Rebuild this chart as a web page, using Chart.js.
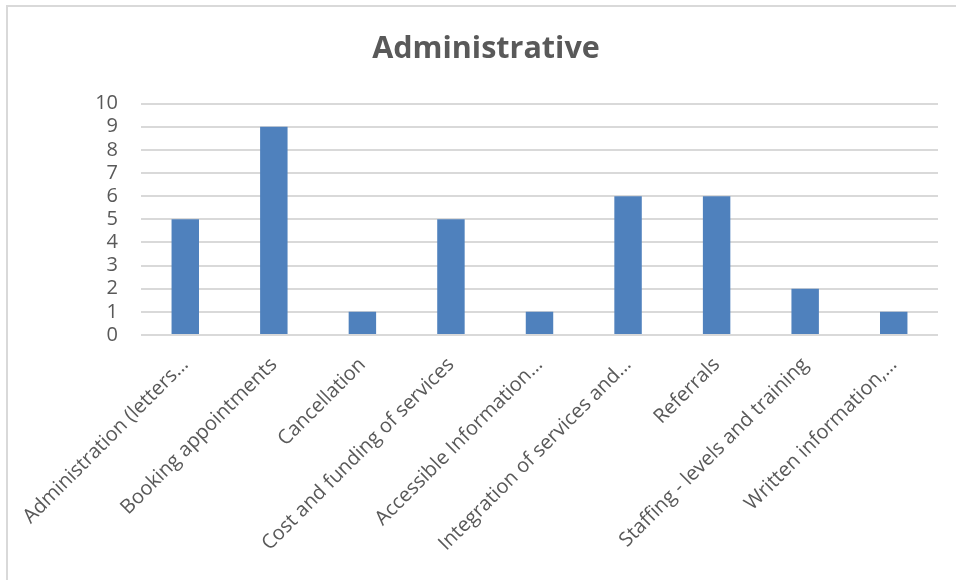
<!DOCTYPE html>
<html>
<head>
<meta charset="utf-8">
<script src="https://cdn.jsdelivr.net/npm/chart.js@4"></script>
<style>
  html, body { margin: 0; padding: 0; background: #fff; }
  #wrap { position: relative; width: 956px; height: 580px; }
  #frame {
    position: absolute; left: 6px; top: 5px; right: -4px; bottom: -4px;
    border-left: 2px solid #d9d9d9; border-top: 2px solid #d9d9d9;
  }
  canvas { position: absolute; left: 0; top: 0; }
</style>
</head>
<body>
<div id="wrap">
  <div id="frame"></div>
  <canvas id="chart" width="956" height="580"></canvas>
</div>
<script>
const categories = [
  'Administration (letters…',
  'Booking appointments',
  'Cancellation',
  'Cost and funding of services',
  'Accessible Information…',
  'Integration of services and…',
  'Referrals',
  'Staffing - levels and training',
  'Written information,…'
];
const counts = [5, 9, 1, 5, 1, 6, 6, 2, 1];
const yTicks = [0, 1, 2, 3, 4, 5, 6, 7, 8, 9, 10];

const textColor = '#595959';
const gridColor = '#d9d9d9';
const fontFamily = '"Open Sans", Lato, sans-serif';

const data = {
  labels: categories,
  datasets: [
    {
      label: 'Administrative',
      backgroundColor: '#4f81bd',
      borderWidth: 0,
      data: counts,
      categoryPercentage: 1,
      barPercentage: 0.31,
    }
  ]
};

const config = {
  type: 'bar',
  data: data,
  options: {
    responsive: false,
    animation: false,
    // left padding keeps the title centred inside the frame
    layout: {
      padding: { left: 34, right: 18, top: 0, bottom: 0 }
    },
    plugins: {
      legend: { display: false },
      tooltip: { enabled: false },
      title: {
        display: true,
        text: 'Administrative',
        color: textColor,
        font: { family: fontFamily, size: 30.5, weight: 'bold' },
        padding: { top: 31, bottom: 36 }
      }
    },
    scales: {
      x: {
        grid: { display: false, drawTicks: false },
        border: { display: false },
        ticks: {
          color: textColor,
          font: { family: fontFamily, size: 20 },
          minRotation: 45,
          maxRotation: 45,
          autoSkip: false,
          padding: 18
        },
        afterFit: function(scale) {
          scale.height = 245;
          // long rotated labels may hang past the left edge
          scale.paddingLeft = 0;
          scale.paddingRight = 0;
        }
      },
      y: {
        min: 0,
        max: 10,
        afterBuildTicks: function(scale) {
          scale.ticks = yTicks.map(v => ({ value: v }));
        },
        grid: { color: gridColor, lineWidth: 2, drawTicks: false },
        border: { display: false },
        ticks: {
          color: textColor,
          font: { family: fontFamily, size: 20 },
          autoSkip: false,
          padding: 23
        },
        afterFit: function(scale) { scale.width = 107; }
      }
    }
  }
};

const myChart = new Chart(
  document.getElementById('chart'),
  config
);
</script>
</body>
</html>
